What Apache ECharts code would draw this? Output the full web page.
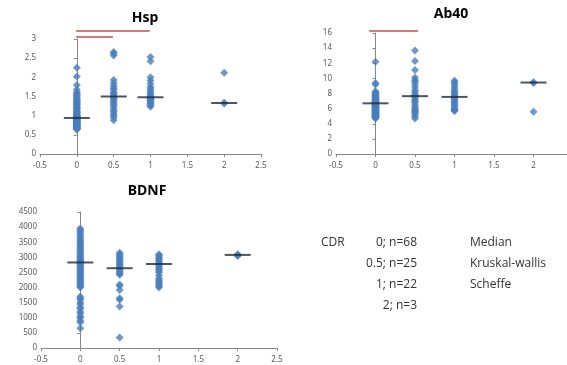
<!DOCTYPE html>
<html>
<head>
<meta charset="utf-8">
<script src="https://cdn.jsdelivr.net/npm/echarts@6/dist/echarts.min.js"></script>
<style>
  html, body { margin: 0; padding: 0; background: #fff; }
  #main { width: 567px; height: 365px; }
</style>
</head>
<body>
<div id="main"></div>
<script>
// CDR groups on the x axis
let cdrLevels = [0, 0.5, 1, 2];

// Hsp values per CDR group
let hsp0 = [2.25, 2.02, 1.80, 1.68, 1.62, 1.58, 1.55, 1.52, 1.48, 1.45, 1.42, 1.40, 1.37, 1.35, 1.32, 1.30, 1.28, 1.25, 1.22, 1.20,
  1.18, 1.15, 1.12, 1.10, 1.08, 1.06, 1.04, 1.02, 1.00, 0.99, 0.98, 0.97, 0.96, 0.95, 0.94, 0.93, 0.93, 0.92, 0.91, 0.90,
  0.89, 0.88, 0.87, 0.86, 0.85, 0.84, 0.83, 0.82, 0.81, 0.80, 0.79, 0.78, 0.77, 0.76, 0.75, 0.74, 0.73, 0.72, 0.71, 0.70,
  0.70, 0.69, 0.68, 0.67, 0.66, 0.66, 0.65, 0.64];
let hsp05 = [2.66, 2.62, 2.57, 1.93, 1.85, 1.78, 1.72, 1.68, 1.62, 1.58, 1.55, 1.50, 1.47, 1.43, 1.38, 1.35, 1.30, 1.26, 1.20, 1.15, 1.10, 1.05, 1.00, 0.95, 0.88];
let hsp1 = [2.53, 2.42, 2.00, 1.92, 1.83, 1.75, 1.70, 1.65, 1.60, 1.56, 1.52, 1.49, 1.47, 1.45, 1.42, 1.40, 1.38, 1.35, 1.32, 1.30, 1.27, 1.23];
let hsp2 = [2.12, 1.34, 1.32];
let hspMedian = [0.94, 1.50, 1.48, 1.33];
// significance bars: [x start, x end, y]
let hspBars = [[-0.01, 0.99, 3.21], [-0.01, 0.49, 3.05]];

// Ab40 values per CDR group
let ab0 = [12.2, 9.4, 9.2, 8.3, 8.1, 8.0, 7.9, 7.8, 7.7, 7.6, 7.5, 7.4, 7.3, 7.2, 7.1, 7.0, 7.0, 6.9, 6.9, 6.8,
  6.8, 6.7, 6.7, 6.6, 6.6, 6.5, 6.5, 6.4, 6.4, 6.3, 6.3, 6.2, 6.2, 6.1, 6.1, 6.0, 6.0, 5.9, 5.9, 5.8,
  5.8, 5.7, 5.7, 5.6, 5.6, 5.5, 5.5, 5.4, 5.4, 5.3, 5.3, 5.2, 5.2, 5.1, 5.1, 5.0, 5.0, 4.9, 4.9, 4.8, 4.8, 4.7];
let ab05 = [13.7, 12.3, 11.1, 10.1, 9.8, 9.6, 9.3, 8.9, 8.5, 8.2, 7.9, 7.7, 7.5, 7.2, 7.0, 6.8, 6.5, 6.2, 6.0, 5.8, 5.7, 5.5, 5.3, 5.0, 4.7];
let ab1 = [9.7, 9.5, 9.3, 9.0, 8.7, 8.4, 8.2, 8.0, 7.8, 7.6, 7.5, 7.4, 7.2, 7.0, 6.8, 6.6, 6.4, 6.2, 6.0, 5.9, 5.8, 5.7];
let ab2 = [9.5, 9.4, 5.6];
let abMedian = [6.7, 7.65, 7.55, 9.45];
let abBars = [[-0.08, 0.54, 16.26]];

// BDNF values per CDR group
let bdnf0 = [3950, 3900, 3850, 3780, 3720, 3660, 3600, 3550, 3500, 3450, 3400, 3350, 3300, 3250, 3200, 3150, 3100, 3060, 3020, 2980,
  2940, 2900, 2860, 2830, 2800, 2760, 2720, 2680, 2640, 2600, 2560, 2520, 2480, 2440, 2400, 2360, 2320, 2280, 2240, 2200,
  2160, 2120, 2080, 2040, 2000, 1700, 1650, 1600, 1500, 1450, 1350, 1300, 1200, 1150, 1050, 1000, 900, 850, 650];
let bdnf05 = [3150, 3100, 3050, 3000, 2950, 2900, 2850, 2800, 2750, 2700, 2650, 2600, 2550, 2500, 2450, 2420, 2100, 2050, 1920, 1650, 1600, 1370, 350];
let bdnf1 = [3100, 3050, 3000, 2950, 2900, 2850, 2800, 2780, 2750, 2700, 2650, 2600, 2550, 2500, 2400, 2300, 2250, 2200, 2150, 2100, 2050, 2000];
let bdnf2 = [3100, 3070, 3040];
let bdnfMedian = [2830, 2640, 2780, 3080];

// legend text
let cdrCounts = ['0; n=68', '0.5; n=25', '1; n=22', '2; n=3'];
let methods = ['Median', 'Kruskal-wallis', 'Scheffe'];

let blue = '#4A7EBB';
let axisGrey = '#868686';
let labelGrey = '#595959';

function pairs(groups) {
  let out = [];
  groups.forEach(function (vals, i) {
    vals.forEach(function (v) { out.push([cdrLevels[i], v]); });
  });
  return out;
}

function plain(v) { return String(v); }

function makeX(gridIndex) {
  return {
    type: 'value', gridIndex: gridIndex, min: -0.5, max: 2.5, interval: 0.5,
    axisLine: { show: true, onZero: false, lineStyle: { color: axisGrey } },
    axisTick: { show: true, length: 3, lineStyle: { color: axisGrey } },
    splitLine: { show: false },
    axisLabel: { fontSize: 8, color: labelGrey, margin: 8, fontFamily: 'Noto Sans', formatter: plain }
  };
}

function makeY(gridIndex, max, interval) {
  return {
    type: 'value', gridIndex: gridIndex, min: 0, max: max, interval: interval,
    axisLine: { show: true, lineStyle: { color: axisGrey } },
    axisTick: { show: true, length: 3, lineStyle: { color: axisGrey } },
    splitLine: { show: false },
    axisLabel: { fontSize: 8, color: labelGrey, margin: 4, fontFamily: 'Noto Sans', formatter: plain }
  };
}

function pointSeries(i, groups) {
  return {
    type: 'scatter', xAxisIndex: i, yAxisIndex: i,
    symbol: 'diamond', symbolSize: 8,
    itemStyle: { color: blue },
    data: pairs(groups)
  };
}

function medianSeries(i, medians) {
  return {
    type: 'scatter', xAxisIndex: i, yAxisIndex: i, z: 5,
    symbol: 'rect', symbolSize: [26, 2],
    itemStyle: { color: '#1E2A3C' },
    data: medians.map(function (m, k) { return [cdrLevels[k], m]; })
  };
}

function barSeries(i, bars) {
  return bars.map(function (b) {
    return {
      type: 'line', xAxisIndex: i, yAxisIndex: i, clip: false,
      symbol: 'none', silent: true, z: 6,
      lineStyle: { color: '#C0504D', width: 1.5 },
      data: [[b[0], b[2]], [b[1], b[2]]]
    };
  });
}

let titleFont = 'bold 14px "Noto Sans"';
let textFont = '12px "Open Sans"';
let graphics = [
  { type: 'text', x: 145, y: 18, style: { text: 'Hsp', font: titleFont, fill: '#000', textAlign: 'center', textVerticalAlign: 'middle' } },
  { type: 'text', x: 451, y: 14, style: { text: 'Ab40', font: titleFont, fill: '#000', textAlign: 'center', textVerticalAlign: 'middle' } },
  { type: 'text', x: 147, y: 191, style: { text: 'BDNF', font: titleFont, fill: '#000', textAlign: 'center', textVerticalAlign: 'middle' } },
  { type: 'text', x: 321, y: 243, style: { text: 'CDR', font: textFont, fill: '#333', textAlign: 'left', textVerticalAlign: 'middle' } }
];
cdrCounts.forEach(function (t, i) {
  graphics.push({ type: 'text', x: 417, y: 243 + i * 21, style: { text: t, font: textFont, fill: '#333', textAlign: 'right', textVerticalAlign: 'middle' } });
});
methods.forEach(function (t, i) {
  graphics.push({ type: 'text', x: 470, y: 243 + i * 21, style: { text: t, font: textFont, fill: '#333', textAlign: 'left', textVerticalAlign: 'middle' } });
});

let option = {
  animation: false,
  backgroundColor: '#fff',
  grid: [
    { left: 40, right: 306, top: 39, bottom: 211, outerBoundsMode: 'none' },
    { left: 336, right: -6, top: 33, bottom: 211, outerBoundsMode: 'none' },
    { left: 41, right: 290, top: 212, bottom: 17, outerBoundsMode: 'none' }
  ],
  xAxis: [makeX(0), makeX(1), makeX(2)],
  yAxis: [makeY(0, 3, 0.5), makeY(1, 16, 2), makeY(2, 4500, 500)],
  graphic: graphics,
  series: [
    pointSeries(0, [hsp0, hsp05, hsp1, hsp2]),
    medianSeries(0, hspMedian),
    pointSeries(1, [ab0, ab05, ab1, ab2]),
    medianSeries(1, abMedian),
    pointSeries(2, [bdnf0, bdnf05, bdnf1, bdnf2]),
    medianSeries(2, bdnfMedian)
  ].concat(barSeries(0, hspBars), barSeries(1, abBars))
};

var chart = echarts.init(document.getElementById('main'));
chart.setOption(option);
</script>
</body>
</html>
